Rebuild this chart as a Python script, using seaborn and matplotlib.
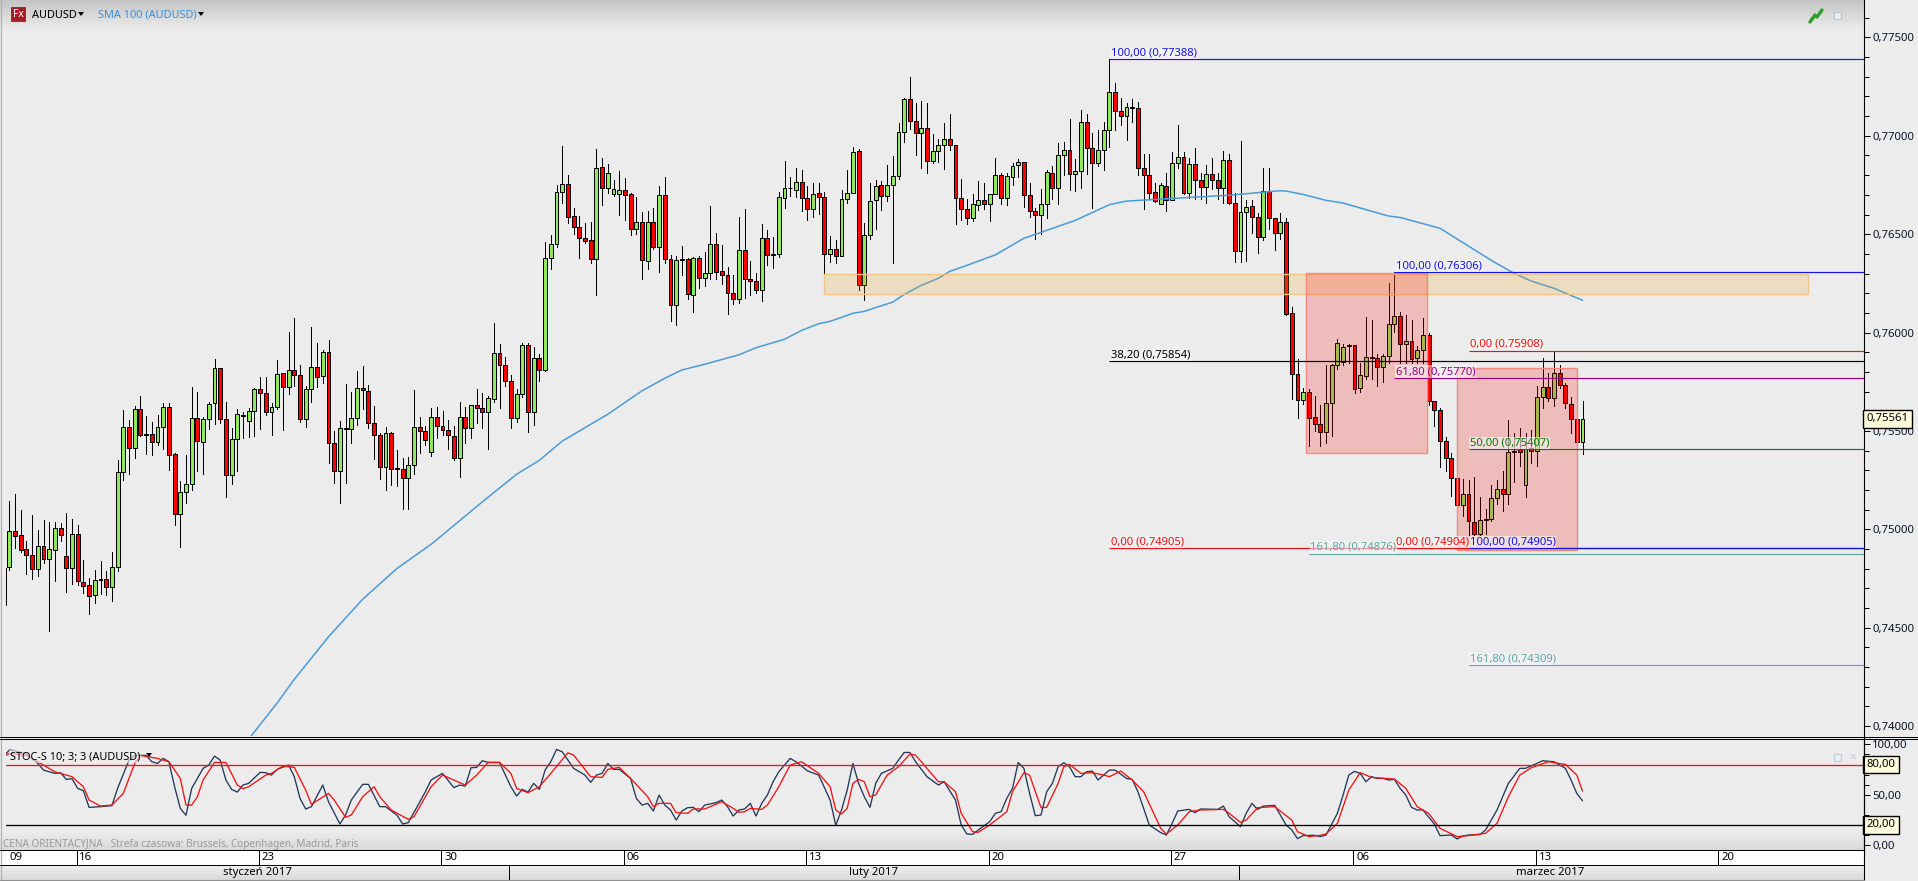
import numpy as np
import pandas as pd
import matplotlib
matplotlib.use("Agg")
import matplotlib.pyplot as plt
from matplotlib.patches import Rectangle, Polygon
from matplotlib.ticker import FuncFormatter, MultipleLocator, FixedLocator
from matplotlib.transforms import blended_transform_factory
import seaborn as sns

# prices are in units of 0.0001
highs = [
7483.2,7514.3,7517.9,7509.7,7494,7507.2,7499.6,7504.7,7503.5,7503.5,
7503.1,7508.2,7505.2,7502.1,7484.3,7475.5,7479.3,7484,7478.6,7488.4,
7535,7560.9,7555.4,7562.7,7568,7557.6,7554.4,7558.3,7564.1,7564.4,
7539,7524.8,7537.7,7572.5,7570,7557.3,7564.9,7586.8,7582.2,7564.6,
7551.7,7561.4,7559.8,7561.9,7572,7577.6,7577.6,7564.4,7586.3,7579.7,
7600.5,7607.6,7583.7,7573,7603,7594.9,7591,7596.4,7550.2,7555.3,
7574.1,7569.7,7580.7,7583.2,7573.6,7562.9,7549.2,7552.2,7549.7,7540.5,
7536.1,7536.6,7571,7557.3,7552.7,7561.5,7562.4,7560.2,7555.8,7552.6,
7564.9,7562.4,7563.4,7571.2,7569.1,7568,7605.1,7594.4,7587.8,7578.6,
7571.2,7594.9,7594.9,7592.9,7589,7646.2,7649.7,7675.1,7695,7680.2,
7663.5,7659.2,7655.5,7656.4,7693.4,7688.9,7685.8,7677.7,7682.3,7678.7,
7671.1,7669,7661.4,7661.9,7663.5,7674.6,7679.2,7639.6,7638.7,7644.2,
7638,7638.6,7639.1,7641.1,7664.1,7650.8,7644.7,7633.5,7629.1,7658.9,
7663,7636.5,7630.1,7655.3,7652.3,7648.7,7671.6,7687.3,7679.2,7683.8,
7682.8,7674.6,7676.2,7676.2,7671.6,7649.2,7647.2,7672.6,7682.8,7694.4,
7693.4,7655.5,7676.2,7677.7,7677.2,7685.3,7689.9,7706.6,7719.3,7730,
7716.8,7717.8,7716.8,7701,7698.5,7706.6,7711.2,7695.5,7677.9,7667.7,
7670.6,7677.2,7676.2,7670.6,7688.5,7681.2,7681.2,7686.3,7688.3,7686.8,
7675.8,7663.1,7673.1,7682.4,7684.6,7696.1,7697,7708.7,7688.3,7712.9,
7711.2,7701.6,7703.1,7707.1,7738.8,7727,7719.3,7716.8,7718.8,7717.3,
7690.9,7690.9,7676.2,7676.2,7680.9,7691.9,7705.6,7691.9,7688.9,7693.9,
7681.2,7685.3,7688.9,7681.2,7692.4,7690.9,7671.1,7697.5,7667.5,7667.5,
7660.9,7683.8,7683.8,7658.4,7660.9,7658.4,7613.2,7586.4,7572,7571.5,
7567.6,7563.4,7583.4,7583.9,7596.9,7594.4,7594,7593.9,7584.7,7607.7,
7606.2,7589.3,7589.3,7625,7631,7610.6,7609.1,7606.6,7593.4,7607.6,
7599.9,7565.4,7561.9,7547.1,7539,7532.6,7525.5,7524.9,7526.8,7516.5,
7510.6,7522.4,7525.3,7529.7,7555.8,7549.2,7551.7,7549.2,7550.7,7573,
7586.9,7579.6,7590.6,7583.7,7574.6,7567.4,7563.4,7565.1]

lows = [
7459.5,7479.4,7490.6,7488.6,7477.2,7474.7,7476.2,7482.8,7448.3,7473.7,
7494,7468.1,7472.1,7471.6,7467.6,7456.9,7462.5,7467,7466.6,7463.5,
7478.9,7525,7528,7536.1,7547.3,7538.2,7537.7,7542.9,7540.7,7530,
7502.1,7490.9,7513.3,7519.9,7529.5,7528,7550.9,7553.4,7554.1,7516.3,
7522.9,7529.5,7546.3,7546.8,7547.3,7550.9,7558.2,7547.8,7561,7550.4,
7568.6,7573,7554.4,7551.9,7564.6,7572.5,7574.6,7533.6,7523.4,7513.3,
7523.4,7543.8,7553.2,7561.4,7551.4,7535.6,7525.5,7519.9,7522.4,7522.1,
7510.4,7510.6,7528,7539,7542.9,7537.2,7546.3,7547.8,7540.7,7535.1,
7526.5,7543.8,7546.3,7554.3,7551.5,7541,7564.8,7561.7,7572.9,7551.5,
7554.5,7567.5,7549.4,7553,7575.6,7580.5,7632.1,7643.5,7665.7,7655.5,
7649.9,7637.7,7645.3,7635.5,7618.9,7664.6,7671.1,7669.4,7659.6,7657,
7649.4,7649.9,7627.1,7632.1,7642.3,7630.6,7635.2,7605.7,7603.7,7629.1,
7617.2,7610.3,7622.5,7623.5,7627.1,7627.1,7624.5,7609.3,7614.4,7614.9,
7617.4,7618.9,7619.9,7615.9,7634.2,7632.6,7638.2,7663.1,7669.2,7669,
7661.6,7657,7658.6,7660.4,7629.6,7635.7,7635.2,7638.9,7665.7,7671,
7621.5,7616.4,7647.4,7652.5,7662.1,7666.7,7635.2,7678.2,7697,7703.6,
7690,7683.4,7681.2,7686.3,7686.8,7682.9,7692.7,7655,7657,7655.2,
7656.7,7662.3,7662.6,7656.5,7670.2,7665.3,7664.8,7675,7679,7663.6,
7658.7,7647.4,7649.9,7658.2,7667.7,7665.2,7680,7672.4,7671.8,7673.6,
7680.4,7663.1,7684.8,7682.4,7694.4,7702.7,7705.3,7697.7,7706.8,7680.2,
7662.6,7667.7,7666.5,7665.2,7661.6,7667.2,7683.6,7670.6,7668.2,7668,
7668,7665.7,7673.1,7668,7665.7,7665.2,7635.9,7635.9,7636.5,7650.8,
7640.3,7647,7652.8,7641.8,7647.7,7608.8,7566.1,7556.6,7563.6,7542.2,
7549.8,7542.2,7543.7,7547.3,7581.3,7583.4,7584.7,7569.1,7569.8,7576.6,
7576.6,7572.7,7574.7,7584.7,7600.3,7584.7,7584.7,7584.7,7584.7,7584.7,
7563.4,7552.7,7531.9,7529.5,7517.2,7510.6,7507,7496.7,7497.2,7497.2,
7497.9,7504,7512.8,7509.4,7512.8,7523.9,7532.2,7516.7,7533.9,7532,
7561.9,7565.2,7562.7,7572,7561.9,7549.2,7541.5,7538.2]

opens = [
7461.6,7480.9,7499.4,7496.9,7489.8,7487.2,7479.9,7491.3,7485,7489.6,
7500.9,7486.7,7480.4,7497.4,7473.5,7471.5,7466.4,7474.3,7475,7470.8,
7480.9,7528.9,7552.2,7541.1,7561.4,7548.7,7548.7,7544.6,7552.2,7562.4,
7538.5,7508,7519.2,7523.3,7556.8,7544.6,7556.3,7564.4,7582.2,7556.3,
7527.8,7546.1,7558.3,7555.3,7560.4,7571.5,7569.5,7559.8,7562.4,7579.7,
7572.5,7581.2,7578.6,7556.3,7571.5,7582.7,7578.1,7590.3,7544.1,7529.9,
7551.2,7551.2,7556.8,7572,7570.5,7554.3,7547.7,7531.9,7549.2,7531.1,
7530.9,7526.3,7532.9,7552.2,7550.2,7539.5,7557.3,7552.7,7550.7,7547.2,
7536.5,7557.3,7551.7,7563.4,7561.8,7559.8,7566.5,7589.8,7583.7,7575.6,
7556.7,7569,7593.9,7559.8,7587.3,7581.2,7638,7645.2,7671.6,7675.7,
7659.4,7653.8,7648.2,7647.2,7637.6,7684.3,7673.6,7670.6,7670.6,7672.6,
7670.6,7652.8,7656.3,7636.5,7656.3,7643.7,7670.1,7637.6,7614,7637.6,
7637.6,7619.3,7638,7627.9,7630.4,7645.2,7631.5,7629.4,7620.3,7617.2,
7642.1,7627.4,7626.4,7621.8,7648.2,7640.1,7640.1,7668.5,7673.6,7672.6,
7676.7,7668.5,7663,7671.1,7669,7640.1,7642.6,7639.1,7668,7671.1,
7692.4,7624.4,7649.7,7667.5,7675.1,7669.6,7675.1,7679.7,7702,7718.8,
7707.6,7701.6,7704.1,7687.3,7692.4,7695.5,7698.5,7695.5,7668.5,7663,
7658.4,7665,7667.5,7665.5,7670.6,7680.2,7668.5,7679.2,7685.3,7686.8,
7670.1,7661.9,7659.9,7665.5,7681.2,7673.6,7690.4,7692.9,7680.7,7682.3,
7707.1,7693.9,7686.3,7692.9,7703.1,7722.4,7712.7,7710.2,7714.8,7714.3,
7683.8,7680.2,7671.6,7665.5,7674.6,7667.5,7686.3,7689.4,7671.1,7685.8,
7677.7,7674.1,7680.7,7677.7,7673.6,7687.8,7666,7641.6,7661.4,7664.5,
7658.9,7648.7,7672.1,7658.4,7650.8,7656.3,7610.1,7579.1,7565.9,7570,
7557.3,7553.7,7549.7,7564.4,7583.7,7585.2,7593.9,7593.9,7572,7578.1,
7587.8,7587.3,7582.7,7588.3,7604.5,7608.6,7594.4,7595.9,7587.3,7591.3,
7598.9,7565.4,7560.8,7545.1,7536.5,7526.3,7512.6,7518.2,7503.5,7497.9,
7505.5,7505.5,7516.1,7520.7,7518.2,7540,7540.7,7522.8,7541.5,7540,
7567.4,7572.5,7566.9,7579.6,7573.5,7563.9,7556.3,7544.6]

closes = [
7480.6,7499.4,7496.7,7489.6,7487.1,7479.9,7491.3,7485,7489.8,7500.9,
7497.2,7480.4,7497.4,7473.8,7471.3,7466.2,7474.5,7475,7470.8,7481.1,
7529.4,7552.2,7541.1,7561.4,7548.2,7548.2,7544.6,7552.2,7562.4,7538,
7508,7519,7523.3,7556.8,7544.9,7556.3,7563.9,7582.2,7556.3,7527.8,
7546.1,7558.8,7557.6,7560.4,7571.5,7569.5,7559.8,7562.4,7579.2,7572.5,
7581.2,7578.6,7556.3,7571.5,7582.7,7577.6,7590.3,7544.1,7529.9,7551.7,
7551.7,7556.8,7572,7571,7554.3,7547.7,7531.9,7549.2,7530.9,7530.6,
7526.3,7532.9,7552.2,7550.2,7545.6,7557.3,7552.7,7550.7,7547.7,7536.5,
7557.3,7551.7,7563.4,7561.9,7559.8,7566.9,7589.8,7583.7,7575.6,7556.7,
7569,7593.9,7559.8,7587.3,7581.2,7638,7645.2,7671.6,7675.7,7658.9,
7653.8,7648.2,7646.7,7637.6,7683.8,7673.6,7681.2,7673.1,7672.6,7670.1,
7652.8,7656.3,7637,7656.3,7643.7,7670.1,7637.6,7614,7637,7637,
7619.8,7638,7627.9,7630.4,7645.2,7631,7629.4,7620.3,7617.2,7642.1,
7627.4,7626.4,7621.8,7648.2,7639.6,7639.6,7669,7673.6,7673.3,7676.7,
7668.5,7663,7670.6,7669,7640.1,7642.6,7639.1,7668,7671.1,7691.9,
7624.4,7649.7,7667,7674.6,7669.6,7675.1,7679.7,7702,7718.8,7707.6,
7701.6,7704.1,7687.3,7692.4,7695.5,7698.5,7695.5,7668.5,7663,7658.4,
7665.5,7667.5,7665.5,7670.6,7680.2,7668.5,7679.7,7684.8,7686.8,7670.1,
7661.9,7659.9,7665.5,7681.7,7673.6,7690.4,7692.9,7680.7,7682.3,7707.1,
7693.9,7686.3,7692.9,7703.1,7722.4,7712.7,7710.2,7714.8,7714.3,7683.8,
7680.2,7671.1,7667,7675.1,7667.5,7686.3,7689.4,7671.1,7685.8,7677.7,
7674.1,7680.7,7677.7,7673.6,7687.8,7666,7641.6,7661.4,7664,7658.9,
7648.7,7672.1,7658.4,7650.8,7656.3,7609.6,7579.1,7565.9,7570,7556.8,
7553.7,7549.7,7564.4,7583.7,7594.9,7592.8,7593.2,7571.5,7578.6,7587.8,
7587.3,7582.7,7588.3,7604.5,7608.6,7594.4,7595.9,7586.7,7591.3,7598.9,
7565.4,7560.8,7545.1,7536.5,7526.3,7512.6,7518.2,7504,7497.9,7505,
7505,7516.1,7520.7,7518.2,7539.5,7539.5,7539.5,7541,7540,7567.4,
7572.5,7566.9,7579.6,7573.5,7564.4,7556.3,7544.6,7556.1]

sma_idx = [43,48,51,57,63,69,75,84,90,94,98,103,106,112,116,119,123,129,132,137,
           140,143,145,149,151,156,158,161,164,166,168,174,179,188,194,197,204,215,
           224,225,228,232,235,243,245,252,261,265,268,272,277]
sma_val = [7393.4,7411.8,7423.8,7445.4,7464.5,7480.1,7492.4,7514,7528,7535.1,7544.8,
           7553.4,7558.5,7570.4,7576.8,7581,7583.9,7588.7,7592.3,7596.6,7601.1,7604.5,
           7605.7,7609.8,7610.8,7615.5,7619.4,7624,7627.6,7631.1,7633.1,7639.5,7647.9,
           7657,7665,7666.8,7668,7669.8,7672.1,7671.9,7670.2,7667.2,7665.8,7659.2,7658.5,
           7653,7636.7,7630.1,7626.2,7622.5,7616.4]

k_idx = [0,1,2,4,6,7,9,10,11,12,13,14,15,17,19,20,22,23,25,26,27,28,29,30,31,32,33,35,36,37,38,39,
         40,41,42,43,45,46,47,48,50,51,52,53,54,56,57,59,60,61,63,64,66,67,69,70,71,74,75,77,79,80,
         81,82,83,84,85,87,89,90,91,92,93,94,95,96,97,98,100,102,103,104,105,106,107,108,110,111,
         112,113,114,115,116,117,118,119,120,121,122,123,125,126,127,128,129,130,131,132,133,134,
         135,136,138,139,140,141,143,145,146,147,148,149,150,151,152,153,154,156,157,158,159,160,
         162,164,165,167,168,169,170,171,173,174,175,176,177,178,179,180,181,182,183,184,185,186,
         187,188,189,190,191,192,194,195,197,198,199,201,203,204,205,206,208,209,210,213,214,215,
         217,218,219,220,221,223,225,226,227,228,230,231,232,234,235,236,237,238,239,240,241,242,
         243,244,245,246,247,248,249,251,252,254,255,256,257,259,260,262,264,266,267,269,270,272,
         274,275,276,277]
k_val = [88,94.4,93.7,90.4,81.1,74.5,71.2,71.9,65.2,65.9,56.3,54,37.4,38.1,39.1,56.3,84.4,89.1,89.1,
         82.8,81.1,86.1,82.8,57.9,36.4,29.5,56.3,76.2,79.5,88.4,84.4,64.6,55.3,52.6,59.6,61.3,72.2,
         71.9,69.5,75.2,79.5,67.9,46.4,35.8,38.1,59.6,43,20.9,29.8,44.7,60.3,60.3,38.1,38.1,29.8,20.9,
         22.2,53,64.6,71.2,57,59.6,58.6,76.8,77.2,83.8,82.1,82.1,57.9,48.7,55.3,52.6,61.3,55.3,74.5,
         82.8,95,92.7,76.2,69.5,62.3,69.5,71.2,81.1,75.2,75.2,66.2,46.4,
         39.7,41.4,33.8,49.7,39.7,34.8,24.8,33.8,37.1,37.4,33.1,39.7,42.1,44.7,38.1,28.8,34.8,35.8,
         41.4,28.8,41.4,49.7,62.9,72.8,86.1,82.8,78.5,73.8,69.5,44.7,19.5,34.8,54.6,81.1,61.3,48,37.4,
         61.3,71.2,76.2,84.4,92,92,82.8,67.9,59.6,62.9,44.7,19.9,10.9,10.6,14.9,23.2,31.5,33.1,46.4,
         56.3,82.1,76.2,51.3,29.1,29.8,53,61.3,77.8,81.8,77.8,67.9,67.9,72.8,73.5,64.6,74.5,74.5,66.2,
         65.2,53,19.9,12.3,9.9,21.5,33.8,35.4,32.1,35.8,35.4,38.7,28.1,18.2,31.5,41.4,35.4,38.7,39.4,
         19.9,14.9,6.3,9.3,9.6,8.3,9.9,31.5,49.7,69.5,73.2,71.2,62.9,67.9,66.2,66.2,64.6,65.2,56.3,
         49.7,37.4,34.8,34.8,20.9,9.3,9.9,6,8.9,9.9,10.3,14.9,34.8,61.3,76.2,76.2,81.1,83.8,82.8,76.2,
         64.6,51.3,44]

d_idx = [0,1,4,6,9,12,14,15,17,19,21,23,24,27,29,31,32,33,34,35,37,39,41,42,43,46,47,49,51,53,54,57,
         58,60,61,63,65,66,68,71,72,75,77,81,83,85,87,89,90,92,94,96,99,100,103,105,106,108,110,
         113,114,115,117,118,120,121,123,126,128,129,130,131,133,134,136,138,140,143,145,146,147,148,
         149,150,151,152,153,155,157,159,160,163,164,165,167,168,170,171,173,176,177,179,180,182,183,
         185,186,187,189,191,193,194,196,198,200,203,204,206,208,210,214,215,217,218,220,223,
         226,227,229,231,232,234,236,238,240,244,246,248,250,252,255,257,260,262,264,266,268,271,274,
         276,277]
d_val = [88,91,89.4,82.8,72.8,67.9,57.9,44.7,38.7,39.7,51.3,81.1,89.1,86.1,82.8,66.2,39.7,39.7,48,64.6,
         82.1,82.1,59.6,56,57.9,69.5,71.2,78.5,77.2,54.6,40.4,51.3,44.7,27.5,29.8,48,57.9,48,34.8,25.5,
         28.1,57.9,69.5,59.6,69.5,82.1,82.1,71.2,56.3,52,57.9,71.2,91.7,89.4,67.9,67.2,75.2,77.2,66.2,
         48,38.1,41.4,41.4,32.1,31.5,35.8,35.8,43,36.4,32.5,33.1,36.4,35.4,39.7,57.9,79.5,82.8,71.2,
         57.9,34.8,30.8,36.4,61.3,65.2,62.9,48,49.7,69.5,77.8,90.4,89.4,69.5,62.9,62.9,53,31.5,13.2,
         12.6,19.9,33.1,53,71.9,69.5,37.1,37.4,61.3,77.8,80.1,71.2,71.9,69.5,67.9,73.5,64.6,53,16.6,
         10.9,19.9,33.1,34.8,35.4,31.5,22.5,24.8,37.1,38.1,
         24.8,13.2,8.3,9.6,10.9,21.5,54.6,71.9,67.2,65.6,56.3,38.1,31.5,16.6,8.3,9.3,11.6,21.5,48,69.5,
         76.8,82.8,80.1,69.5,53.6]

fib_levels = [0.77388,0.76306,0.75854,0.75770,0.75908,0.75407,0.74905,0.74904,0.74905,0.74876,0.74309]
fib_ratios = ["100,00","100,00","38,20","61,80","0,00","50,00","0,00","0,00","100,00","161,80","161,80"]
fib_start = [194,244,194,244,257,257,194,244,257,229,257]
fib_colors = ["#1414e6","#1414e6","#000000","#990080","#f01010","#0c7a0c","#f01010","#f01010",
              "#1414e6","#5fa6a8","#5fa6a8"]

price_ticks_major = 0.005
last_price = 0.75561
week_pos = [12.8,44.8,76.8,108.8,140.8,172.8,204.8,236.8,268.8,300.8]
week_labels = ["16","23","30","06","13","20","27","06","13","20"]
month_pos = [44.5,152.7,271.3]
month_labels = ["styczeń 2017","luty 2017","marzec 2017"]
month_edges = [88.7,216.8]
red_boxes = [(228.5,249.7,0.7539,0.76301),(254.9,276,0.74897,0.75822)]
band = (144,316.6,0.76196,0.76300)

W, H = 1918, 881
sns.set_theme(style="white")
plt.rcParams["font.family"] = ["Noto Sans", "DejaVu Sans"]
BG = "#ececec"
TXT = "#0a1526"
FS = 7.9

fig = plt.figure(figsize=(W/100, H/100), dpi=100, facecolor=BG)

def box(l, t, r, b, z):
    a = fig.add_axes([l/W, 1-b/H, (r-l)/W, (b-t)/H], zorder=z)
    a.patch.set_visible(False)
    return a

# x goes 3.6 + 5.7*i in pixels
def i_of(px):
    return (px-3.6)/5.7

# background: header gradient, lower panel gradient, date rows
bg = box(0, 0, W, H, 0)
bg.imshow(np.linspace(0.77, 0.925, 64)[:, None], extent=[0, 1864, 30, 0], cmap="gray", vmin=0, vmax=1, aspect="auto")
bg.imshow(np.linspace(0.925, 0.85, 32)[:, None], extent=[0, 1864, 850, 832], cmap="gray", vmin=0, vmax=1, aspect="auto")
bg.imshow(np.linspace(0.94, 0.85, 32)[:, None], extent=[0, 1864, 880, 865], cmap="gray", vmin=0, vmax=1, aspect="auto")
bg.add_patch(Rectangle((0, 850), 1864, 15, fc="white", ec="none"))
bg.set_xlim(0, W); bg.set_ylim(H, 0); bg.axis("off")

# price panel
ax = box(6, 0, 1864, 736, 2)
df = pd.DataFrame({"o": opens, "h": highs, "l": lows, "c": closes})/1e4
df["i"] = np.arange(len(df))
df["top"] = df[["o", "c"]].max(axis=1)
df["bot"] = df[["o", "c"]].min(axis=1)
ax.vlines(df["i"], df["l"], df["h"], color="black", lw=0.72, zorder=2, antialiased=False)
ax.bar(df["i"], df["top"]-df["bot"], bottom=df["bot"], width=0.68,
       color=np.where(df["c"] >= df["o"], "#90e85c", "#ff0000"), edgecolor="black", linewidth=0.72, zorder=3)
sns.lineplot(x=sma_idx, y=np.array(sma_val)/1e4, ax=ax, color="#4a9bd8", linewidth=1.1,
             estimator=None, errorbar=None, zorder=4)

ax.add_patch(Rectangle((band[0], band[2]), band[1]-band[0], band[3]-band[2], fc=(0.96, 0.65, 0.14, 0.22),
                       ec="#f2c48a", lw=1.0, zorder=5))
for x0, x1, y0, y1 in red_boxes:
    ax.add_patch(Rectangle((x0, y0), x1-x0, y1-y0, fc=(1, 0, 0, 0.2), ec="#f58a7c", lw=1.0, zorder=6))

xmax = i_of(1864)
for lev, ratio, st, col in zip(fib_levels, fib_ratios, fib_start, fib_colors):
    ax.hlines(lev, st, xmax, color=col, lw=0.85, zorder=7)
for lev, ratio, st, col in zip(fib_levels, fib_ratios, fib_start, fib_colors):
    ax.annotate(f"{ratio} ({lev:.5f})".replace("0.", "0,", 1), xy=(st, lev), xytext=(1, 0.6),
                textcoords="offset points", ha="left", va="bottom", color=col, fontsize=FS+0.2, zorder=8,
                bbox=dict(fc="#f6f6f6", ec="none", alpha=0.6, pad=0.4))

ax.set_xlim(i_of(6), xmax)
ax.set_ylim(0.7395, 0.7769)
ax.set_xticks([]); ax.set_xlabel(""); ax.set_ylabel("")
for s in ["top", "left", "bottom"]:
    ax.spines[s].set_visible(False)
ax.spines["right"].set_linewidth(0.8); ax.spines["right"].set_color("black")
ax.yaxis.tick_right()
ax.yaxis.set_major_locator(MultipleLocator(price_ticks_major))
ax.yaxis.set_minor_locator(MultipleLocator(0.001))
ax.yaxis.set_major_formatter(FuncFormatter(lambda v, p: f"{v:.5f}".replace(".", ",")))
ax.tick_params(axis="y", which="major", right=True, length=4.5, width=0.72, color="black", pad=1.5, labelsize=FS+0.3, labelcolor=TXT)
ax.tick_params(axis="y", which="minor", right=True, length=3.5, width=0.72, color="black")
tr = blended_transform_factory(ax.transAxes, ax.transData)
ax.text(1.00135, last_price, f"{last_price:.5f}".replace(".", ","), transform=tr, ha="left", va="center",
        fontsize=FS+0.3, color="black", zorder=20, clip_on=False,
        bbox=dict(fc="#fdfbdc", ec="black", lw=1.0, boxstyle="square,pad=0.28"))

# stochastic panel
st = box(6, 738.4, 1864, 850, 2)
sns.lineplot(x=k_idx, y=k_val, ax=st, color="#23395b", linewidth=0.95, estimator=None, errorbar=None)
sns.lineplot(x=d_idx, y=d_val, ax=st, color="#f01414", linewidth=0.95, estimator=None, errorbar=None)
st.axhline(80, color="#f01414", lw=0.95, zorder=3)
st.axhline(20, color="black", lw=0.95, zorder=3)
st.set_xlim(i_of(6), xmax)
st.set_ylim(-5, 106)
st.set_xticks([]); st.set_xlabel(""); st.set_ylabel("")
for s in ["top", "left", "bottom"]:
    st.spines[s].set_visible(False)
st.spines["right"].set_linewidth(0.8); st.spines["right"].set_color("black")
st.yaxis.tick_right()
st.yaxis.set_major_locator(FixedLocator([0, 50, 100]))
st.yaxis.set_minor_locator(FixedLocator([10, 30, 60, 70, 90]))
st.yaxis.set_major_formatter(FuncFormatter(lambda v, p: f"{v:.2f}".replace(".", ",")))
st.tick_params(axis="y", which="major", right=True, length=4.5, width=0.72, color="black", pad=1.5, labelsize=FS+0.3, labelcolor=TXT)
st.tick_params(axis="y", which="minor", right=True, length=3.5, width=0.72, color="black")
trs = blended_transform_factory(st.transAxes, st.transData)
for v in [80, 20]:
    st.text(1.00135, v, f"{v:.2f}".replace(".", ","), transform=trs, ha="left", va="center", fontsize=FS+0.3,
            color="black", clip_on=False, zorder=20,
            bbox=dict(fc="#fdfbdc", ec="black", lw=1.0, boxstyle="square,pad=0.28"))

# date rows, same x scale
dt = box(0, 850, 1864, 880, 2)
dt.set_xlim(i_of(0), xmax); dt.set_ylim(30, 0); dt.axis("off")
dt.vlines(week_pos, 0, 15, color="black", lw=0.72)
dt.vlines(month_edges, 15, 30, color="black", lw=0.72)
for p, lab in zip(week_pos, week_labels):
    dt.text(p+0.5, 7.6, lab, ha="left", va="center", fontsize=FS+0.3, color="black")
dt.text(i_of(9), 7.6, "09", ha="left", va="center", fontsize=FS+0.3, color="black")
for p, lab in zip(month_pos, month_labels):
    dt.text(p, 22.4, lab, ha="center", va="center", fontsize=FS+0.3, color="black")

# chrome on top
fg = box(0, 0, W, H, 5)
fg.set_xlim(0, W); fg.set_ylim(H, 0); fg.axis("off")
fg.plot([0.5, 0.5], [0, 881], color="#b0b0b0", lw=0.9)
fg.plot([0, W], [736.6, 736.6], color="black", lw=0.72)
fg.plot([0, W], [738.6, 738.6], color="black", lw=0.72)
fg.plot([0, 1864], [850, 850], color="black", lw=0.72)
fg.plot([0, 1864], [865, 865], color="black", lw=0.72)
fg.plot([1864, 1864], [736, 881], color="black", lw=0.8)
fg.plot([0, 1864], [880.3, 880.3], color="#909090", lw=0.8)

fg.add_patch(Rectangle((11, 7), 14, 14, fc="#a51c24", ec="#7a1218", lw=0.5))
fg.text(18, 14.2, "Fx", color="white", fontsize=7.5, fontweight="bold", ha="center", va="center")
fg.text(32, 15, "AUDUSD", color="black", fontsize=FS, va="center")
fg.add_patch(Polygon([(78, 12), (84, 12), (81, 16)], fc="black", ec="none"))
fg.text(98, 15, "SMA 100 (AUDUSD)", color="#3a8fd8", fontsize=FS, va="center")
fg.add_patch(Polygon([(198, 12), (204, 12), (201, 16)], fc="black", ec="none"))

fg.plot([1810, 1815, 1817, 1822], [22, 15, 17, 10], color="#2e9e26", lw=2.4)
fg.add_patch(Rectangle((1834, 12), 7, 7, fc="#e8eef2", ec="#b8c4cc", lw=0.8))
fg.add_patch(Rectangle((1834, 754), 7, 7, fc="#e8eef2", ec="#c4cdd4", lw=0.8))
fg.text(1853, 757.5, "×", color="#c4cdd4", fontsize=9, ha="center", va="center")

fg.text(10, 756.5, "STOC-S 10; 3; 3 (AUDUSD)", color="black", fontsize=FS, va="center",
        bbox=dict(fc=BG, ec="none", alpha=0.65, pad=0.6))
fg.add_patch(Polygon([(146, 753), (152, 753), (149, 757)], fc="black", ec="none"))
fg.text(3, 844.5, "CENA ORIENTACYJNA   Strefa czasowa: Brussels, Copenhagen, Madrid, Paris", color="#9a9a9a",
        fontsize=7.2, va="center")

fig.savefig("out.png", dpi=100, facecolor=BG)
